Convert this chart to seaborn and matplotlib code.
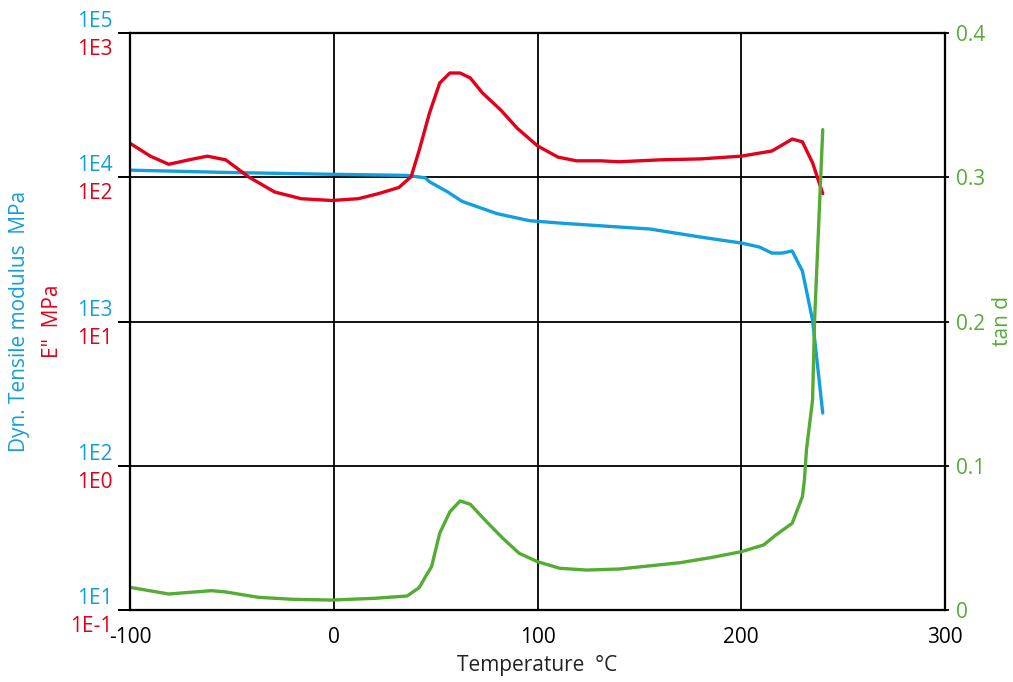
# ==========================================================
# DMA CURVES: E', E'' AND TAN D VS TEMPERATURE
# ==========================================================

import numpy as np
import matplotlib
matplotlib.use("Agg")
import matplotlib.pyplot as plt
import matplotlib.transforms as mtransforms
import seaborn as sns

# ==========================================================
# DATA
# ==========================================================

temp_storage = [-100, -53, -4, 36, 45, 47, 56, 63, 80, 96, 112, 145, 155,
                180, 200, 209, 215, 220, 225, 230, 235, 240]
storage_modulus = [11200, 10800, 10500, 10300, 9900, 9300, 7900, 6800, 5600,
                   5000, 4800, 4470, 4380, 3850, 3500, 3280, 2980, 2980,
                   3080, 2240, 1020, 232]

temp_loss = [-100, -90, -81, -70, -62, -53, -42, -29, -16, -1, 12, 22, 32,
             38, 42, 47, 52, 57, 62, 67, 73, 82, 90, 100, 110, 119, 131,
             140, 160, 180, 200, 215, 220, 225, 230, 235, 240]
loss_modulus = [172, 140, 123, 133, 140, 132, 101, 79, 71, 69, 71, 77, 85,
                101, 155, 279, 450, 528, 528, 488, 384, 292, 219, 165, 138,
                130, 130, 128, 132, 134, 140, 152, 167, 184, 176, 126, 77]

temp_tan = [-100, -81, -60, -53, -37, -20, -1, 20, 36, 42, 45, 48, 52, 57,
            62, 67, 75, 83, 91, 100, 111, 124, 140, 170, 185, 200, 211, 217,
            225, 230, 231, 232, 235, 236, 240]
tan_d = [0.0157, 0.0111, 0.0134, 0.0125, 0.0088, 0.0074, 0.0069, 0.0081,
         0.0097, 0.0156, 0.0231, 0.030, 0.0532, 0.0681, 0.0756, 0.0733,
         0.0612, 0.0497, 0.0393, 0.0335, 0.0289, 0.0277, 0.0284, 0.0328,
         0.0363, 0.0404, 0.0451, 0.052, 0.0601, 0.0785, 0.0901, 0.111,
         0.1456, 0.201, 0.333]

x_ticks = [-100, 0, 100, 200, 300]
storage_ticks = [1e1, 1e2, 1e3, 1e4, 1e5]
storage_labels = ["1E1", "1E2", "1E3", "1E4", "1E5"]
loss_ticks = [1e-1, 1e0, 1e1, 1e2, 1e3]
loss_labels = ["1E-1", "1E0", "1E1", "1E2", "1E3"]
tan_ticks = [0, 0.1, 0.2, 0.3, 0.4]
tan_labels = ["0", "0.1", "0.2", "0.3", "0.4"]

BLUE = "#139FDC"
RED = "#E2001A"
GREEN = "#55AC35"

# ==========================================================
# STYLE
# ==========================================================

sns.set_theme(style="white")
plt.rcParams["font.family"] = ["Open Sans", "DejaVu Sans"]
FS = 15

fig = plt.figure(figsize=(10.13, 6.82), dpi=100)
ax = fig.add_axes([130 / 1013, 1 - 610 / 682, 815 / 1013, 577 / 682])

ax_red = ax.twinx()
ax_tan = ax.twinx()

# ==========================================================
# CURVES
# ==========================================================

sns.lineplot(x=temp_storage, y=storage_modulus, ax=ax, color=BLUE,
             linewidth=2.4, estimator=None, sort=False)
sns.lineplot(x=temp_loss, y=loss_modulus, ax=ax_red, color=RED,
             linewidth=2.4, estimator=None, sort=False)
sns.lineplot(x=temp_tan, y=tan_d, ax=ax_tan, color=GREEN,
             linewidth=2.4, estimator=None, sort=False)

# ==========================================================
# AXES
# ==========================================================

ax.set_xlim(-100, 300)
ax.set_xticks(x_ticks)
ax.set_xticklabels([str(t) for t in x_ticks], fontsize=FS, color="black")
ax.set_xlabel("Temperature  °C", fontsize=FS, color="#222222", labelpad=5)

ax.set_yscale("log")
ax.set_ylim(1e1, 1e5)
ax.yaxis.set_major_locator(matplotlib.ticker.FixedLocator(storage_ticks))
ax.yaxis.set_minor_locator(matplotlib.ticker.NullLocator())
ax.set_yticklabels(storage_labels, fontsize=FS, color=BLUE)

ax_red.set_yscale("log")
ax_red.set_ylim(1e-1, 1e3)
ax_red.yaxis.tick_left()
ax_red.yaxis.set_major_locator(matplotlib.ticker.FixedLocator(loss_ticks))
ax_red.yaxis.set_minor_locator(matplotlib.ticker.NullLocator())
ax_red.set_yticklabels(loss_labels, fontsize=FS, color=RED)

ax_tan.set_ylim(0, 0.4)
ax_tan.set_yticks(tan_ticks)
ax_tan.set_yticklabels(tan_labels, fontsize=FS, color=GREEN)

ax.grid(True, which="major", color="black", linewidth=1.3)
ax_red.grid(False)
ax_tan.grid(False)

ax.tick_params(axis="x", direction="inout", length=10, width=1.3,
               pad=7, colors="black")
ax.tick_params(axis="y", direction="out", length=8.5, width=1.3, pad=4,
               colors="black", labelcolor=BLUE)
ax_red.tick_params(axis="y", direction="out", length=8.5, width=1.3, pad=4,
                   colors="black", labelcolor=RED)
ax_tan.tick_params(axis="y", direction="out", length=3, width=1.3, pad=5,
                   colors="black", labelcolor=GREEN)

# blue labels sit above the gridline, red labels below it
shift_up = mtransforms.ScaledTranslation(0, 1 / 100, fig.dpi_scale_trans)
shift_down = mtransforms.ScaledTranslation(0, -6 / 100, fig.dpi_scale_trans)
for lab in ax.get_yticklabels():
    lab.set_verticalalignment("bottom")
    lab.set_transform(lab.get_transform() + shift_up)
for lab in ax_red.get_yticklabels():
    lab.set_verticalalignment("top")
    lab.set_transform(lab.get_transform() + shift_down)

for a in (ax, ax_red, ax_tan):
    for side in a.spines.values():
        side.set_color("black")
        side.set_linewidth(1.5)

# ==========================================================
# AXIS TITLES
# ==========================================================

ax.set_ylabel("Dyn. Tensile modulus  MPa", fontsize=FS, color=BLUE)
ax.yaxis.set_label_coords(-0.123, 0.5)

ax_red.yaxis.set_label_position("left")
ax_red.set_ylabel('E"  MPa', fontsize=FS, color=RED)
ax_red.yaxis.set_label_coords(-0.082, 0.5)

ax_tan.set_ylabel("tan d", fontsize=FS, color=GREEN)
ax_tan.yaxis.set_label_coords(1.058, 0.5)

fig.savefig("out.png", dpi=100)
